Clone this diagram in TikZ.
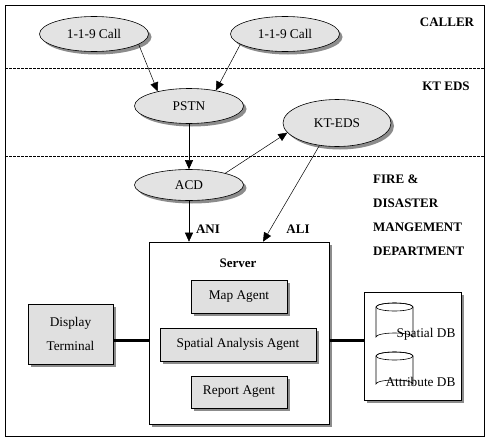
\documentclass[tikz,border=0pt]{standalone}
\usepackage{fontspec}
\setmainfont{Liberation Serif}
\usetikzlibrary{shapes.geometric,shadows,arrows.meta}
\begin{document}
\begin{tikzpicture}[x=1pt,y=-1pt,
  font=\fontsize{13.3}{15}\selectfont,
  shad/.style={drop shadow={shadow xshift=3pt,shadow yshift=-3pt,fill=black!45,opacity=1}},
  oval/.style={ellipse,draw,line width=0.6pt,fill=black!11,minimum width=109pt,minimum height=35pt,inner sep=0pt,shad},
  agent/.style={rectangle,draw,line width=0.6pt,fill=black!12,inner sep=0pt,shad},
  box/.style={rectangle,draw,line width=0.6pt,fill=white,inner sep=0pt,shad},
  arr/.style={-{Triangle[length=9pt,width=8pt]},line width=0.5pt},
  lbl/.style={font=\fontsize{13}{15}\selectfont\bfseries,inner sep=0pt},
  bus/.style={line width=3pt},
  sep/.style={dash pattern=on 2.5pt off 1.5pt,line width=0.6pt}
]
\useasboundingbox (0,0) rectangle (490,442);
\draw[line width=0.8pt] (5,5) rectangle (484,436);
\draw[sep] (5,68) -- (484,68);
\draw[sep] (5,156) -- (484,156);

\node[lbl] (caller) at (447,22) {CALLER};
\node[lbl] (kteds) at (446,86) {KT EDS};
\node[lbl,align=left,anchor=north west,font=\fontsize{13}{24}\selectfont\bfseries] (fire) at (373,174.5) {FIRE \&\\DISASTER\\MANGEMENT\\DEPARTMENT};

\node[oval] (c1) at (94,34) {1-1-9 Call};
\node[oval] (c2) at (285,34) {1-1-9 Call};
\node[oval] (p) at (189,106) {PSTN};
\node[oval,minimum width=108pt,minimum height=47pt] (kt) at (337,123) {KT-EDS};
\node[oval,minimum height=31pt] (acd) at (189,185) {ACD};

\node[box,minimum width=180pt,minimum height=182pt] (server) at (239,333) {};
\node[lbl] (stitle) at (238,263) {Server};
\node[agent,minimum width=96pt,minimum height=33pt] (map) at (239,296.5) {Map Agent};
\node[agent,minimum width=156pt,minimum height=33pt] (spa) at (238,344.5) {Spatial Analysis Agent};
\node[agent,minimum width=96pt,minimum height=32pt] (rep) at (239,392) {Report Agent};
\node[agent,minimum width=85pt,minimum height=60pt,align=center,font=\fontsize{13.3}{24}\selectfont] (dt) at (70.5,334) {Display\\Terminal};
\node[box,minimum width=97pt,minimum height=108pt] (db) at (412.5,346) {};

% cylinders
\draw[line width=0.6pt] (376,307) arc[start angle=180,end angle=360,x radius=18.5pt,y radius=-4pt] -- (413,337) arc[start angle=0,end angle=-180,x radius=18.5pt,y radius=-4pt] -- cycle;
\draw[line width=0.6pt] (394.5,307) ellipse[x radius=18.5pt,y radius=4pt];
\draw[line width=0.6pt] (376,356) arc[start angle=180,end angle=360,x radius=18.5pt,y radius=-4pt] -- (413,384) arc[start angle=0,end angle=-180,x radius=18.5pt,y radius=-4pt] -- cycle;
\draw[line width=0.6pt] (394.5,356) ellipse[x radius=18.5pt,y radius=4pt];
\node[inner sep=0pt] (sdb) at (426,334) {Spatial DB};
\node[inner sep=0pt] (adb) at (420.5,382) {Attribute DB};

\coordinate (busy) at (0,340);
\draw[bus] (dt.east |- busy) -- (server.west |- busy);
\draw[bus] (server.east |- busy) -- (db.west |- busy);

\draw[arr] (c1.-13) -- (p.155);
\draw[arr] (c2.-167) -- (p.30);
\draw[arr] (p) -- (acd);
\draw[arr] (acd.18) -- (kt.-169);
\draw[arr] (kt.-128) -- ([xshift=24pt]server.north);
\draw[arr] (acd) -- (acd |- server.north);
\node[lbl] (ani) at (208,229) {ANI};
\node[lbl] (ali) at (298,229) {ALI};
\end{tikzpicture}
\end{document}
